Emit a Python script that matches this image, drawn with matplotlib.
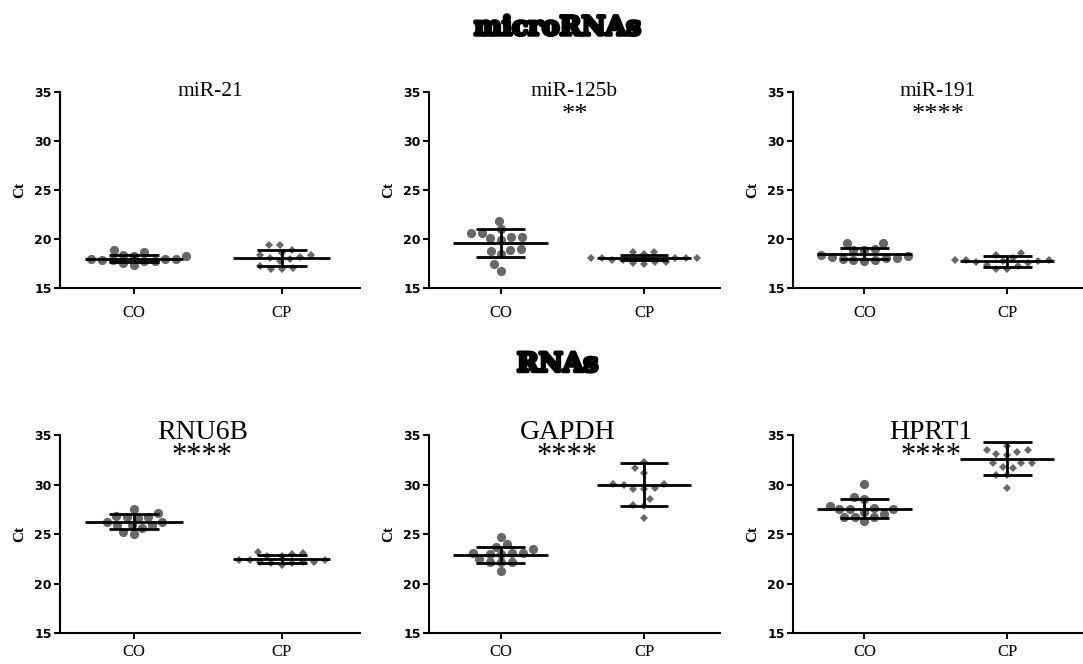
import numpy as np
import matplotlib
matplotlib.use("Agg")
import matplotlib.pyplot as plt
import matplotlib.patheffects as pe

# ---------------- data ----------------
groups = ["CO", "CP"]
panel_titles = ["miR-21", "miR-125b", "miR-191", "RNU6B", "GAPDH", "HPRT1"]
significance = ["", "**", "****", "****", "****", "****"]

mir21_co = [18.63, 18.29, 17.95, 17.88, 17.71, 17.54, 18.9, 17.37, 17.71, 17.88, 17.95, 17.95, 18.29, 18.39]
mir21_cp = [18.9, 17.7, 17.0, 18.4, 19.4, 16.9, 18.1, 19.4, 16.9, 18.2, 17.2, 18.4, 18.0, 18.6]
mir125b_co = [20.65, 20.2, 18.97, 19.87, 18.76, 21.86, 16.78, 17.42, 20.14, 18.43, 21.05, 20.21, 18.87, 20.65]
mir125b_cp = [18.65, 18.1, 18.1, 17.9, 17.65, 17.5, 17.45, 17.65, 18.05, 17.9, 18.1, 18.1, 18.45, 18.7]
mir191_co = [18.9, 18.3, 18.2, 18.05, 17.85, 19.55, 17.8, 17.85, 19.55, 18.0, 18.1, 18.35, 18.85, 18.95]
mir191_cp = [18.05, 17.85, 17.35, 17.6, 18.35, 16.95, 17.2, 16.95, 18.6, 17.5, 17.7, 17.85, 17.85, 17.75]
rnu6b_co = [26.83, 25.92, 26.76, 25.59, 26.26, 25.02, 27.5, 26.2, 25.25, 26.6, 25.92, 26.76, 25.92, 27.17]
rnu6b_cp = [23.05, 22.8, 22.4, 22.15, 22.05, 22.15, 23.25, 21.85, 22.1, 22.15, 22.4, 22.4, 22.75, 23.0]
gapdh_co = [24.0, 23.47, 22.46, 23.07, 22.16, 23.0, 24.68, 21.29, 23.0, 22.16, 23.13, 22.16, 23.13, 23.74]
gapdh_cp = [30.06, 29.62, 31.64, 29.52, 26.6, 31.2, 28.5, 29.52, 27.84, 32.3, 27.94, 29.96, 30.06]
hprt1_co = [27.5, 27.5, 27.03, 26.76, 28.51, 26.36, 27.84, 30.06, 26.76, 28.71, 26.76, 27.27, 27.5, 27.6]
hprt1_cp = [32.2, 33.9, 32.14, 33.5, 31.64, 29.7, 33.1, 30.97, 33.3, 33.5, 31.8, 32.2, 33.0, 31.0]

# mean and SD lines: (mean, upper, lower)
co_summary = [(17.98, 18.39, 17.64), (19.54, 20.98, 18.19), (18.47, 19.05, 17.93),
              (26.26, 27.0, 25.49), (22.9, 23.74, 22.06), (27.54, 28.55, 26.6)]
cp_summary = [(18.08, 18.9, 17.27), (18.03, 18.36, 17.82), (17.7, 18.27, 17.09),
              (22.5, 22.9, 22.06), (29.96, 32.14, 27.84), (32.58, 34.26, 30.97)]

co_data = [mir21_co, mir125b_co, mir191_co, rnu6b_co, gapdh_co, hprt1_co]
cp_data = [mir21_cp, mir125b_cp, mir191_cp, rnu6b_cp, gapdh_cp, hprt1_cp]

y_ticks = [15, 20, 25, 30, 35]

# ---------------- figure ----------------
W, H = 1083, 664
fig = plt.figure(figsize=(W / 100, H / 100), dpi=100)

lefts = [60, 429, 793]
rights = [360, 720, 1083]
rows = [(91.7, 288.0), (435.0, 633.3)]  # (top px, bottom px)

grey = "#676767"


def swarm_offsets(vals, dx, dy, xscale, yscale):
    """Elliptical beeswarm offsets in data units (dx, dy in pixels)."""
    vals = np.asarray(vals, float)
    ypx = vals * yscale
    order = np.argsort(vals)
    placed = []
    offs = np.zeros(len(vals))
    for i in order:
        y = ypx[i]
        cands = [0.0]
        for (xj, yj) in placed:
            t = abs(y - yj) / dy
            if t < 1:
                w = dx * np.sqrt(1 - t * t)
                cands += [xj + w, xj - w]
        cands = sorted(cands, key=lambda c: (abs(c), c))
        for c in cands:
            ok = True
            for (xj, yj) in placed:
                if ((c - xj) / dx) ** 2 + ((y - yj) / dy) ** 2 < 1 - 1e-6:
                    ok = False
                    break
            if ok:
                offs[i] = c
                placed.append((c, y))
                break
    return offs / xscale


for k in range(6):
    r, c = divmod(k, 3)
    top, bot = rows[r]
    l, rr = lefts[c], rights[c]
    ax = fig.add_axes([l / W, (H - bot) / H, (rr - l) / W, (bot - top) / H])
    ax.set_xlim(-0.5, 1.53)
    ax.set_ylim(15, 35)
    for s in ["top", "right"]:
        ax.spines[s].set_visible(False)
    for s in ["left", "bottom"]:
        ax.spines[s].set_linewidth(1.5)
    ax.set_yticks(y_ticks)
    ax.set_yticklabels([str(t) for t in y_ticks], fontsize=9, fontweight="bold",
                       family="DejaVu Sans")
    ax.set_xticks([0, 1])
    ax.set_xticklabels(groups, fontsize=12, family="Liberation Serif")
    ax.tick_params(axis="both", direction="out", length=4, width=1.5)
    ax.tick_params(axis="y", pad=2)
    ax.tick_params(axis="x", pad=8 if r == 0 else 4)
    ax.set_ylabel("Ct", fontsize=11, family="Liberation Serif", fontweight="bold",
                  labelpad=6)

    xscale = (rr - l) / (1.53 + 0.5)
    yscale = (bot - top) / 20.0

    for gi, (data, summ, mk, ms) in enumerate([
            (co_data[k], co_summary[k], "o", 6.6),
            (cp_data[k], cp_summary[k], "D", 4.4)]):
        offs = swarm_offsets(data, 11.0, 8.0, xscale, yscale)
        ax.plot(gi + offs, data, linestyle="none", marker=mk, markersize=ms,
                color=grey, markeredgewidth=0, zorder=2)
        mean, up, lo = summ
        ax.hlines(mean, gi - 0.33, gi + 0.33, color="black", lw=2, zorder=3)
        ax.hlines([up, lo], gi - 0.17, gi + 0.17, color="black", lw=2, zorder=3)
        ax.vlines(gi, lo, up, color="black", lw=2, zorder=3)

    tsize = 15.5 if r == 0 else 20
    ax.text(0.5 if r == 0 else 0.475, 1.0 if r == 0 else 1.015, panel_titles[k],
            transform=ax.transAxes, ha="center", va="center",
            fontsize=tsize, family="Liberation Serif", clip_on=False, zorder=5)
    if significance[k]:
        ssize = 19 if r == 0 else 22
        ax.text(0.5 if r == 0 else 0.475, 0.88 if r == 0 else 0.89, significance[k],
                transform=ax.transAxes, ha="center", va="center",
                fontsize=ssize, family="Liberation Serif", clip_on=False, zorder=5)

hdr_fx = dict(path_effects=[pe.withStroke(linewidth=2.5, foreground="black")])
fig.text(557.5 / W, 1 - 27.5 / H, "microRNAs", ha="center", va="center",
         fontsize=19, fontweight="heavy", family="DejaVu Serif", **hdr_fx)
fig.text(557.5 / W, 1 - 364 / H, "RNAs", ha="center", va="center",
         fontsize=19, fontweight="heavy", family="DejaVu Serif", **hdr_fx)

fig.savefig("out.png", dpi=100)
